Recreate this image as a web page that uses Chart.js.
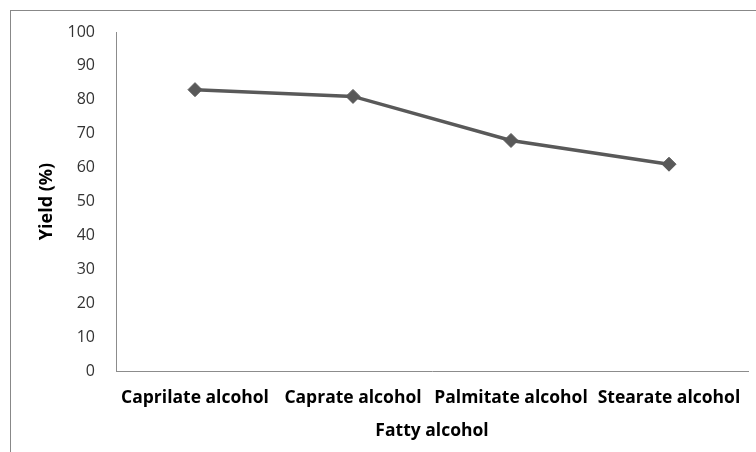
<!DOCTYPE html>
<html>
<head>
<meta charset="utf-8">
<script src="https://cdn.jsdelivr.net/npm/chart.js@4/dist/chart.umd.min.js"></script>
<style>
    html, body { margin: 0; padding: 0; background: #fff; }
    .wrap { position: relative; width: 756px; height: 452px; }
    .frame { position: absolute; left: 10px; top: 10px; right: -2px; bottom: -2px; border-top: 1px solid #888; border-left: 1px solid #888; }
    canvas { position: absolute; left: 0; top: 0; }
</style>
</head>
<body>
<div class="wrap">
    <div class="frame"></div>
    <canvas id="chart" width="756" height="452"></canvas>
</div>
<script>
// Yield per fatty alcohol
const categories = ['Caprilate alcohol', 'Caprate alcohol', 'Palmitate alcohol', 'Stearate alcohol'];
const yieldValues = [83, 81, 68, 61];
const yTicks = [0, 10, 20, 30, 40, 50, 60, 70, 80, 90, 100];

const FONT = '"Open Sans", sans-serif';

const ctx = document.getElementById('chart').getContext('2d');
new Chart(ctx, {
    type: 'line',
    data: {
        labels: categories,
        datasets: [{
            label: 'Yield (%)',
            data: yieldValues,
            borderColor: '#595959',
            backgroundColor: '#595959',
            borderWidth: 3.5,
            pointStyle: 'rectRot',
            pointRadius: 7,
            pointBorderWidth: 1,
            tension: 0,
            fill: false
        }]
    },
    options: {
        responsive: false,
        animation: false,
        layout: { padding: { top: 32, right: 8, bottom: 0, left: 0 } },
        plugins: {
            legend: { display: false },
            tooltip: { enabled: false }
        },
        scales: {
            x: {
                offset: true,
                grid: { display: false },
                border: { display: true, color: '#8c8c8c', width: 1 },
                ticks: {
                    color: '#000',
                    padding: 9,
                    maxRotation: 0,
                    autoSkip: false,
                    font: { family: FONT, size: 17.5, weight: 'bold' }
                },
                title: {
                    display: true,
                    text: 'Fatty alcohol',
                    color: '#000',
                    padding: { top: 10, bottom: 10 },
                    font: { family: FONT, size: 17.5, weight: 'bold' }
                },
                afterFit: s => { s.height = 81; }
            },
            y: {
                min: 0,
                max: 100,
                grid: { display: false },
                border: { display: true, color: '#8c8c8c', width: 1 },
                afterBuildTicks: s => { s.ticks = yTicks.map(v => ({ value: v })); },
                ticks: {
                    color: '#333',
                    padding: 13,
                    font: { family: FONT, size: 16 }
                },
                title: {
                    display: true,
                    text: 'Yield (%)',
                    color: '#000',
                    padding: { top: 36, bottom: 36 },
                    font: { family: FONT, size: 18, weight: 'bold' }
                },
                afterFit: s => { s.width = 116; }
            }
        }
    }
});
</script>
</body>
</html>
